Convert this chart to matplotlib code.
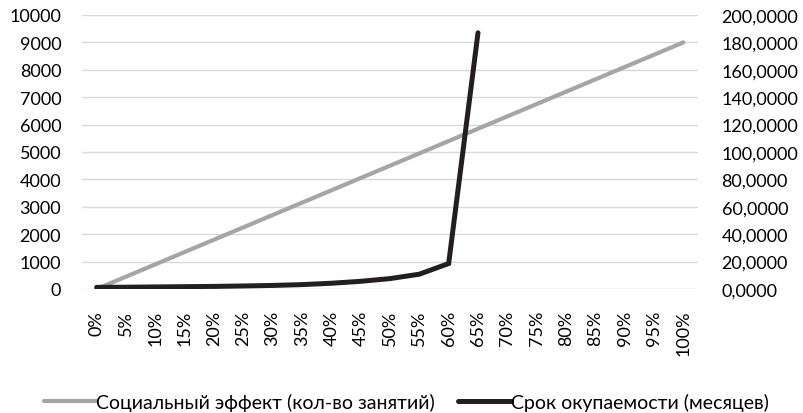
import matplotlib
matplotlib.use("Agg")
import matplotlib.pyplot as plt
import numpy as np

plt.rcParams['font.family'] = ['Lato', 'Noto Sans', 'DejaVu Sans']

categories = ["0%", "5%", "10%", "15%", "20%", "25%", "30%", "35%", "40%", "45%", "50%",
              "55%", "60%", "65%", "70%", "75%", "80%", "85%", "90%", "95%", "100%"]
social_effect = [0, 450, 900, 1350, 1800, 2250, 2700, 3150, 3600, 4050, 4500,
                 4950, 5400, 5850, 6300, 6750, 7200, 7650, 8100, 8550, 9000]
payback = [1.2, 1.3, 1.5, 1.7, 1.9, 2.2, 2.6, 3.2, 4.2, 5.6, 7.6, 10.8, 18.6, 187.0]
label_social = "Социальный эффект (кол-во занятий)"
label_payback = "Срок окупаемости (месяцев)"

W, H = 804, 414
fig = plt.figure(figsize=(W / 100, H / 100), dpi=100)
ax = fig.add_axes([82 / W, 1 - 290 / H, (698 - 82) / W, (290 - 16) / H])
ax2 = ax.twinx()

x = np.arange(len(categories))
fs = 13
gray = "#A5A5A5"
black = "#231F20"

l1, = ax.plot(x, social_effect, color=gray, lw=3.0, solid_capstyle='round', zorder=3)
l2, = ax2.plot(x[:len(payback)], payback, color=black, lw=3.6, solid_capstyle='round',
               solid_joinstyle='miter', zorder=3)

ax.set_xlim(-0.5, len(categories) - 0.5)
ax.set_ylim(0, 10000)
ax2.set_ylim(0, 200)
ax.set_yticks(np.arange(0, 10001, 1000))
ax2.set_yticks(np.arange(0, 201, 20))
ax2.set_yticklabels([f"{v:.4f}".replace(".", ",") for v in np.arange(0, 201, 20)])
ax.set_xticks(x)
ax.set_xticklabels(categories, rotation=90)

for a in (ax, ax2):
    for s in a.spines.values():
        s.set_visible(False)
    a.tick_params(length=0, labelsize=fs, colors="#000000")
ax.tick_params(axis='y', pad=15)
ax2.tick_params(axis='y', pad=17)
ax.tick_params(axis='x', pad=15)
ax.grid(axis='y', color="#D9D9D9", lw=1.0)
ax.set_axisbelow(True)

fig.legend([l1, l2], [label_social, label_payback], loc='center',
           bbox_to_anchor=(406 / W, 1 - 403 / H), ncol=2, frameon=False,
           fontsize=14, handlelength=2.7, handletextpad=0.0, columnspacing=1.2,
           borderpad=0, borderaxespad=0)

fig.savefig("out.png", dpi=100)
